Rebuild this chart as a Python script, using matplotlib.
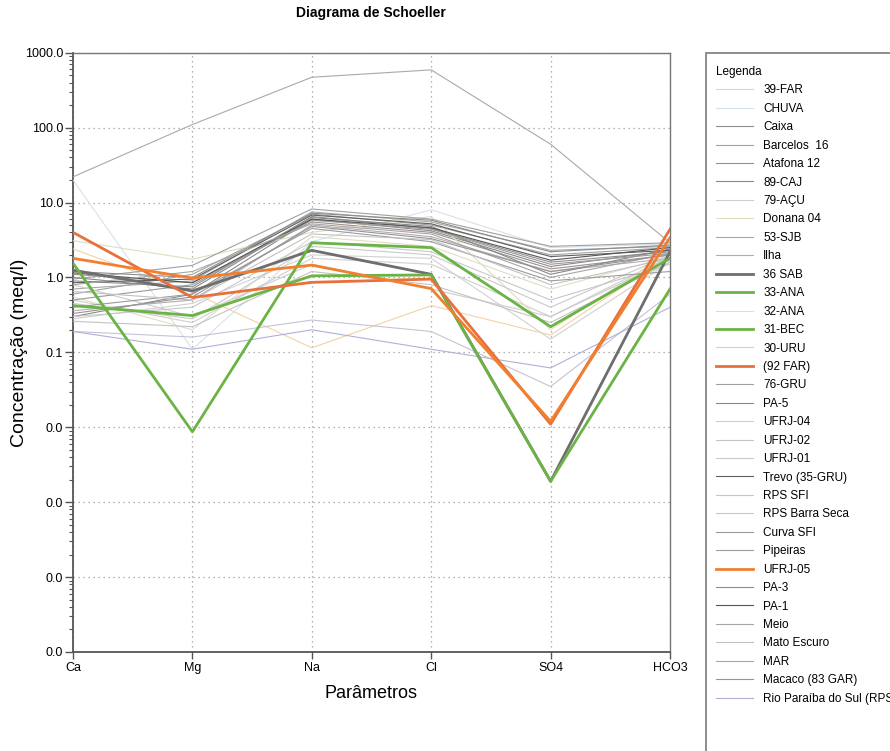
import matplotlib
matplotlib.use('Agg')
import matplotlib.pyplot as plt
from matplotlib.patches import Rectangle
from matplotlib.ticker import LogLocator, FormatStrFormatter, FixedLocator, NullFormatter

plt.rcParams['font.family'] = ['Liberation Sans', 'DejaVu Sans']

# ---- data (meq/l) ----
params = ['Ca', 'Mg', 'Na', 'Cl', 'SO4', 'HCO3']
samples = ['39-FAR', 'CHUVA', 'Caixa', 'Barcelos  16', 'Atafona 12', '89-CAJ', '79-AÇU',
           'Donana 04', '53-SJB', 'Ilha', '36 SAB', '33-ANA', '32-ANA', '31-BEC', '30-URU',
           '(92 FAR)', '76-GRU', 'PA-5', 'UFRJ-04', 'UFRJ-02', 'UFRJ-01', 'Trevo (35-GRU)',
           'RPS SFI', 'RPS Barra Seca', 'Curva SFI', 'Pipeiras', 'UFRJ-05', 'PA-3', 'PA-1',
           'Meio', 'Mato Escuro', 'MAR', 'Macaco (83 GAR)', 'Rio Paraíba do Sul (RPS)']

ca = [2.4, 20.0, 0.9, 0.6, 1.1, 0.3, 0.5, 3.1, 0.7, 0.36, 1.25, 1.55, 0.55, 0.42, 0.28,
      4.0, 0.95, 1.0, 0.8, 0.26, 0.45, 0.85, 0.19, 0.3, 0.5, 0.4, 1.8, 1.2, 1.15, 0.8,
      0.65, 22.0, 0.33, 0.19]
mg = [0.63, 0.11, 0.75, 1.1, 0.85, 0.6, 0.25, 1.75, 0.9, 0.5, 0.66, 0.0087, 0.2, 0.31, 0.45,
      0.54, 1.45, 0.7, 0.3, 0.22, 0.28, 0.95, 0.16, 0.4, 0.8, 0.6, 0.98, 1.0, 0.85, 1.2,
      0.5, 110.0, 0.55, 0.11]
na = [0.115, 3.0, 6.5, 7.0, 5.5, 6.0, 1.8, 4.0, 7.5, 5.0, 2.3, 2.9, 3.5, 1.05, 2.0,
      0.86, 8.2, 6.3, 1.5, 1.2, 2.6, 6.8, 0.27, 3.0, 5.8, 4.5, 1.46, 7.2, 6.0, 5.2,
      3.8, 470.0, 4.8, 0.2]
cl = [0.42, 8.0, 4.5, 5.0, 4.0, 4.2, 1.5, 6.5, 5.5, 3.5, 1.1, 2.5, 2.6, 1.08, 1.8,
      0.95, 6.0, 4.8, 0.7, 0.8, 2.0, 5.2, 0.19, 2.2, 4.4, 3.0, 0.71, 5.8, 4.6, 3.8,
      3.2, 590.0, 3.3, 0.11]
so4 = [0.17, 2.5, 1.6, 2.0, 1.3, 1.4, 0.3, 0.2, 2.3, 1.2, 0.0019, 0.22, 0.7, 0.0019, 0.15,
       0.011, 2.6, 1.1, 0.3, 0.25, 0.4, 1.9, 0.035, 0.5, 1.5, 0.9, 0.012, 2.2, 1.7, 1.0,
       0.8, 60.0, 1.2, 0.062]
hco3 = [2.0, 2.8, 2.2, 2.5, 2.0, 2.3, 1.9, 2.2, 2.6, 1.8, 2.2, 1.8, 1.9, 0.7, 1.6,
        4.4, 2.9, 2.4, 1.7, 1.6, 2.0, 2.3, 0.6, 1.5, 2.1, 1.2, 3.4, 2.7, 2.5, 2.1,
        1.8, 2.9, 2.0, 0.4]

# line colours (legend order)
colors = ['#f2d2a8', '#d6e2ea', '#8e8e8e', '#a2a2a2', '#a09088', '#8a8a8a', '#cfcfcf',
          '#e2dcc0', '#a8a8a8', '#b4acb4', '#6e6e6e', '#6ab344', '#e2ddc8', '#6ab344', '#d2d2d2',
          '#e8703a', '#a0a0a0', '#888888', '#cccccc', '#c4c4c4', '#cacaca', '#5e5e5e',
          '#c4c4d4', '#c8c8c8', '#9a9a9a', '#9c9c9c', '#f08030', '#8c8c8c', '#555555',
          '#a6a6a6', '#c2c2c2', '#a8a8b0', '#959595', '#b0b0d8']
thick = {'36 SAB', '33-ANA', '31-BEC', '(92 FAR)', 'UFRJ-05'}

W, H = 890, 751
fig = plt.figure(figsize=(W / 100, H / 100), dpi=100)
ax = fig.add_axes([73 / W, 1 - 652 / H, 597 / W, 599.3 / H])

x = list(range(len(params)))
for i, name in enumerate(samples):
    vals = [ca[i], mg[i], na[i], cl[i], so4[i], hco3[i]]
    if name in thick:
        ax.plot(x, vals, color=colors[i], lw=2.0, zorder=4, label=name)
    else:
        ax.plot(x, vals, color=colors[i], lw=0.8, zorder=3, label=name)

ax.set_yscale('log')
ax.set_ylim(1e-5, 1e3)
ax.set_xlim(0, 5)
ax.set_xticks(x)
ax.set_xticklabels(params, fontsize=9)
ax.yaxis.set_major_locator(FixedLocator([10.0 ** k for k in range(-5, 4)]))
ax.yaxis.set_major_formatter(FormatStrFormatter('%.1f'))
ax.yaxis.set_minor_locator(LogLocator(base=10, subs=range(2, 10), numticks=20))
ax.yaxis.set_minor_formatter(NullFormatter())
ax.tick_params(axis='y', which='major', labelsize=9, length=6, width=1, color='#555555', pad=1)
ax.tick_params(axis='y', which='minor', length=3, width=0.8, color='#555555')
ax.tick_params(axis='x', length=5, width=1, color='#555555', pad=2)

ax.grid(True, which='major', color='#9a9a9a', linestyle=(0, (1, 3)), lw=0.9, zorder=1)

for side in ['left', 'bottom']:
    ax.spines[side].set_color('#555555')
    ax.spines[side].set_linewidth(1.3)
for side in ['top', 'right']:
    ax.spines[side].set_color('#777777')
    ax.spines[side].set_linewidth(1.0)

ax.set_xlabel('Parâmetros', fontsize=13, labelpad=8)
ax.set_ylabel('Concentração (meq/l)', fontsize=14)
ax.yaxis.set_label_coords((20 - 73) / 597, 0.5)
ax.yaxis.label.set_verticalalignment('center')
fig.text(371 / W, 1 - 13 / H, 'Diagrama de Schoeller', ha='center', va='center',
         fontsize=10, fontweight='bold')

# legend frame runs off the right and bottom edges like the reference
fig.patches.append(Rectangle((706 / W, -0.05), 0.3, 1 - 53 / H + 0.05, transform=fig.transFigure,
                             facecolor='white', edgecolor='#7a7a7a', lw=1.2, zorder=-1))
leg = ax.legend(loc='upper left', bbox_to_anchor=(716 / W, 1 - 66 / H),
                bbox_transform=fig.transFigure, title='Legenda', alignment='left',
                fontsize=8.5, title_fontsize=8.5, frameon=False,
                handlelength=3.1, handletextpad=0.9, labelspacing=0.545,
                borderpad=0, borderaxespad=0)

plt.savefig('out.png', dpi=100)
